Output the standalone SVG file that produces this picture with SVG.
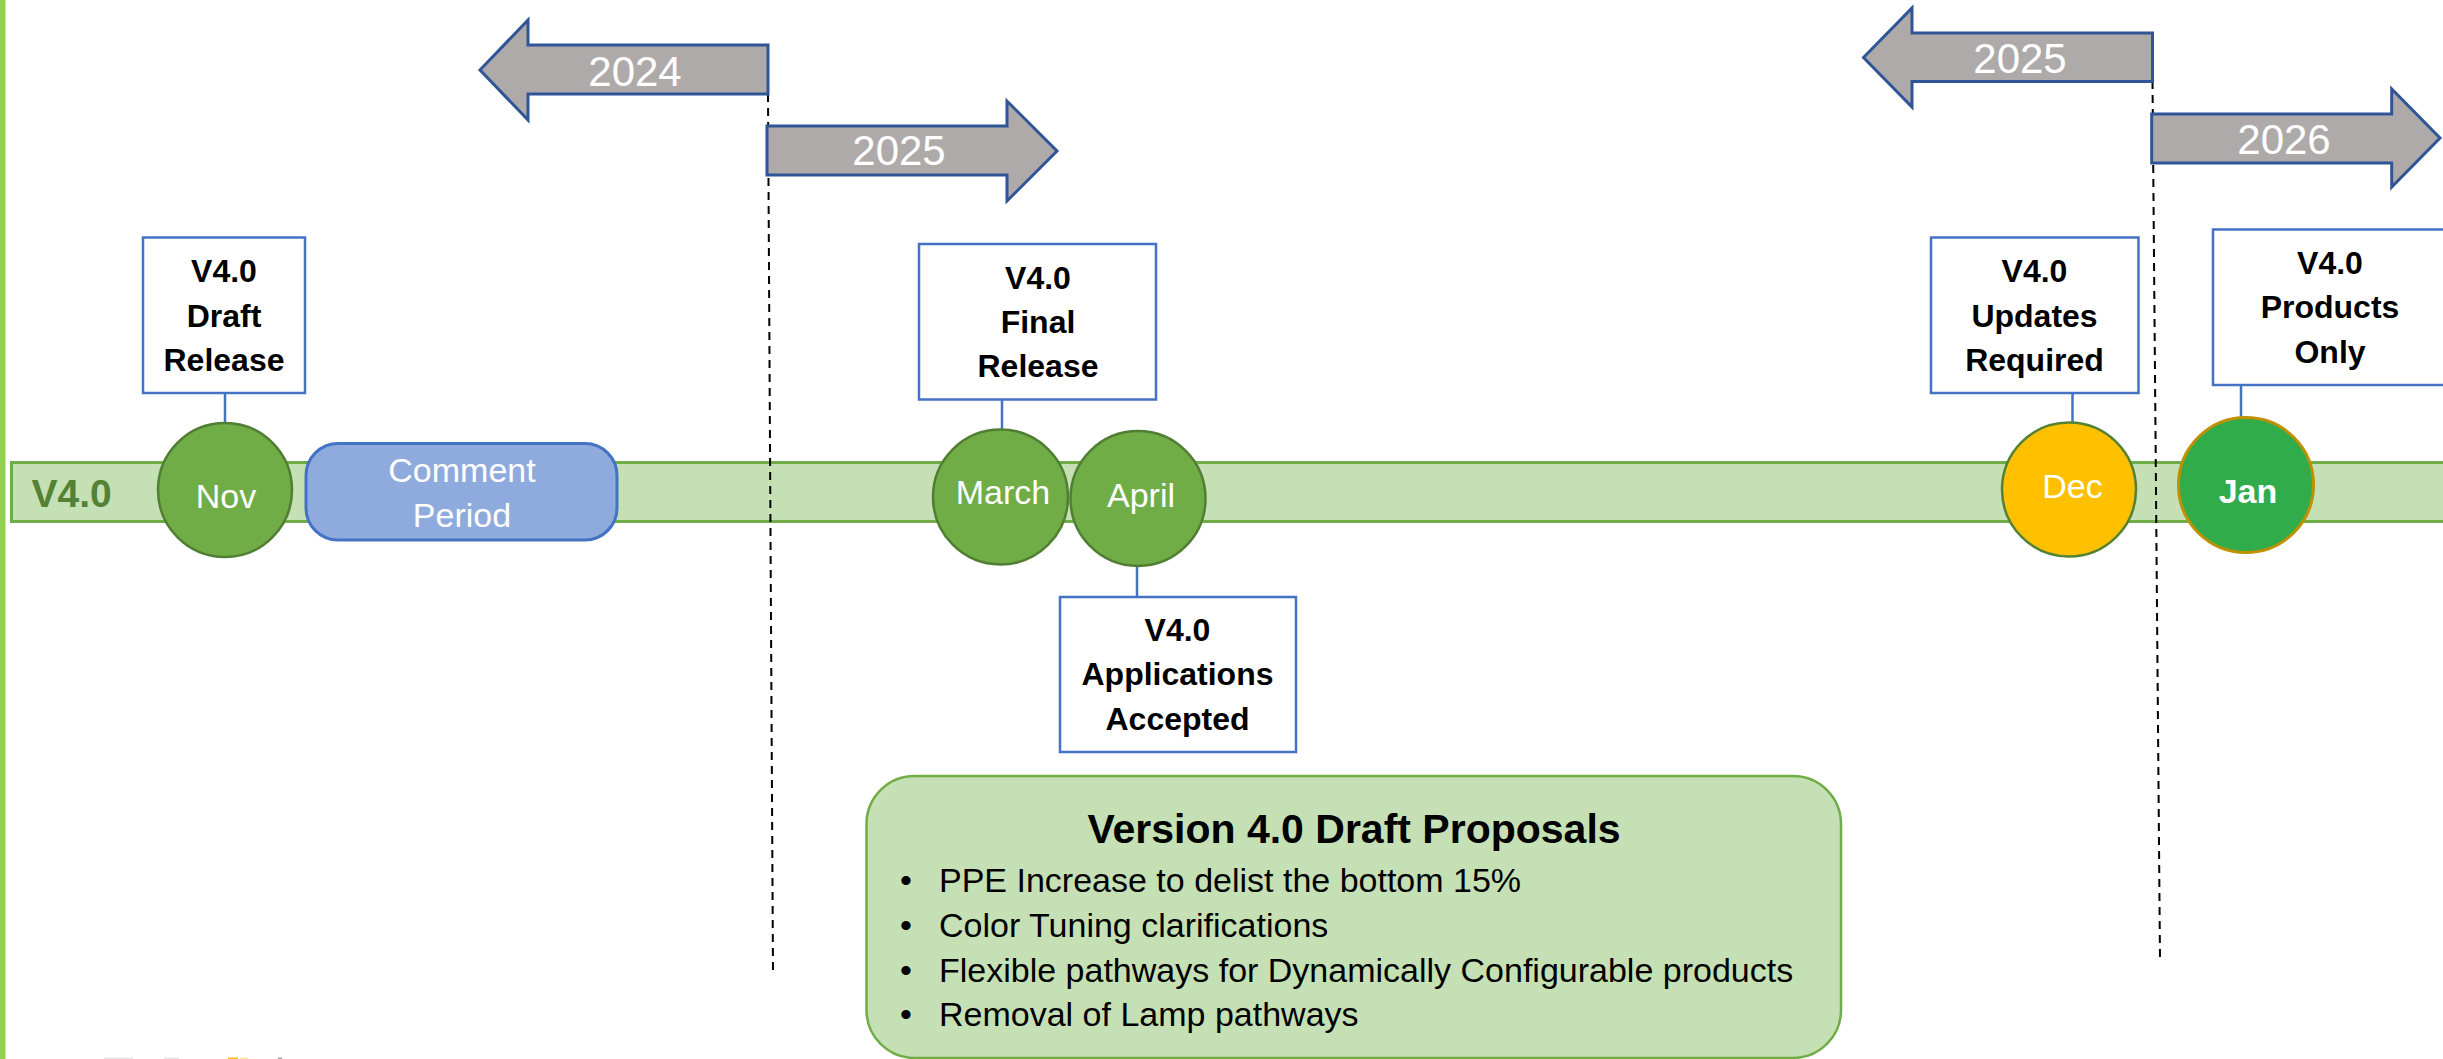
<svg xmlns="http://www.w3.org/2000/svg" width="2443" height="1059" viewBox="0 0 2443 1059">
  <style>
    text { font-family: "Liberation Sans", Arial, sans-serif; }
    .yr { fill: #ffffff; font-size: 42px; text-anchor: middle; }
    .arrow { fill: #AEAAAA; stroke: #2F5597; stroke-width: 3; stroke-linejoin: miter; }
    .box { fill: #ffffff; stroke: #4472C4; stroke-width: 2.5; }
    .boxtxt { fill: #000000; font-size: 32px; font-weight: bold; text-anchor: middle; }
    .mon { fill: #70AD47; stroke: #507E32; stroke-width: 2.5; }
    .montxt { fill: #ffffff; font-size: 34px; text-anchor: middle; }
    .link { stroke: #4472C4; stroke-width: 2.5; fill: none; }
    .dash { stroke: #000000; stroke-width: 2; stroke-dasharray: 8 6; fill: none; }
    .bul { fill: #000000; font-size: 34px; }
  </style>

  <!-- left edge accent -->
  <rect x="0" y="0" width="5.5" height="1059" fill="#92D050"/>

  <!-- V4.0 timeline band -->
  <g id="band">
    <rect x="11.5" y="462.5" width="2450" height="59" fill="#C5E0B4" stroke="#70AD47" stroke-width="3"/>
    <text x="31.5" y="507" font-size="39" font-weight="bold" fill="#548235">V4.0</text>
  </g>

  <!-- year boundaries -->
  <g id="year-dividers">
    <line class="dash" x1="768" y1="94" x2="773" y2="973"/>
    <line class="dash" x1="2152.5" y1="81" x2="2160" y2="960"/>
  </g>

  <!-- year arrows -->
  <g id="arrow-2024">
    <path class="arrow" d="M480,70 L528,20 L528,45 L768,45 L768,94 L528,94 L528,120 Z"/>
    <text class="yr" x="635" y="86">2024</text>
  </g>
  <g id="arrow-2025a">
    <path class="arrow" d="M767,126 L1007,126 L1007,101 L1057,151 L1007,201 L1007,175 L767,175 Z"/>
    <text class="yr" x="899" y="165">2025</text>
  </g>
  <g id="arrow-2025b">
    <path class="arrow" d="M1863.5,57.5 L1912,8 L1912,33 L2152.5,33 L2152.5,81.5 L1912,81.5 L1912,107 Z"/>
    <text class="yr" x="2020" y="73">2025</text>
  </g>
  <g id="arrow-2026">
    <path class="arrow" d="M2151.7,114 L2391.7,114 L2391.7,89 L2440,138 L2391.7,187 L2391.7,163 L2151.7,163 Z"/>
    <text class="yr" x="2284" y="153.5">2026</text>
  </g>

  <!-- connectors between milestones and their callouts -->
  <g id="connectors">
    <line class="link" x1="225" y1="393" x2="225" y2="423"/>
    <line class="link" x1="1002" y1="399" x2="1002" y2="430"/>
    <line class="link" x1="1137" y1="566" x2="1137" y2="597"/>
    <line class="link" x1="2072.5" y1="393" x2="2072.5" y2="422"/>
    <line class="link" x1="2241" y1="385" x2="2241" y2="418"/>
  </g>

  <!-- milestones -->
  <g id="nov">
    <circle class="mon" cx="225" cy="490" r="67"/>
    <text class="montxt" x="226" y="508">Nov</text>
  </g>
  <g id="comment-period">
    <rect x="306" y="443.5" width="311" height="96.5" rx="32" ry="32" fill="#8FAADC" stroke="#4472C4" stroke-width="3"/>
    <text class="montxt" x="462" y="482">Comment</text>
    <text class="montxt" x="462" y="527">Period</text>
  </g>
  <g id="march">
    <circle class="mon" cx="1000.5" cy="497" r="67.5"/>
    <text class="montxt" x="1003" y="504">March</text>
  </g>
  <g id="april">
    <circle class="mon" cx="1138" cy="498.5" r="67.5"/>
    <text class="montxt" x="1141" y="506.5">April</text>
  </g>
  <g id="dec">
    <circle cx="2069" cy="489.5" r="67" fill="#FFC000" stroke="#548235" stroke-width="2.5"/>
    <text class="montxt" x="2072.5" y="498">Dec</text>
  </g>
  <g id="jan">
    <circle cx="2246" cy="485" r="67.5" fill="#31AC4B" stroke="#BF9000" stroke-width="3"/>
    <text class="montxt" x="2248" y="503" font-weight="bold">Jan</text>
  </g>

  <!-- callouts -->
  <g id="draft-release">
    <rect class="box" x="143" y="237.5" width="162" height="155.5"/>
    <text class="boxtxt" x="224" y="282">V4.0</text>
    <text class="boxtxt" x="224" y="327">Draft</text>
    <text class="boxtxt" x="224" y="371">Release</text>
  </g>
  <g id="final-release">
    <rect class="box" x="919" y="244" width="237" height="155.5"/>
    <text class="boxtxt" x="1038" y="288.5">V4.0</text>
    <text class="boxtxt" x="1038" y="333">Final</text>
    <text class="boxtxt" x="1038" y="377">Release</text>
  </g>
  <g id="applications-accepted">
    <rect class="box" x="1060" y="597" width="236" height="155"/>
    <text class="boxtxt" x="1177.5" y="640.5">V4.0</text>
    <text class="boxtxt" x="1177.5" y="685">Applications</text>
    <text class="boxtxt" x="1177.5" y="730">Accepted</text>
  </g>
  <g id="updates-required">
    <rect class="box" x="1931" y="237.5" width="207.5" height="155.5"/>
    <text class="boxtxt" x="2034.5" y="282">V4.0</text>
    <text class="boxtxt" x="2034.5" y="327">Updates</text>
    <text class="boxtxt" x="2034.5" y="371">Required</text>
  </g>
  <g id="products-only">
    <rect class="box" x="2213" y="229.5" width="236" height="155.5"/>
    <text class="boxtxt" x="2330" y="274">V4.0</text>
    <text class="boxtxt" x="2330" y="318">Products</text>
    <text class="boxtxt" x="2330" y="362.5">Only</text>
  </g>

  <!-- proposals panel -->
  <g id="draft-proposals">
    <rect x="866.5" y="776" width="974.5" height="282" rx="48" ry="48" fill="#C5E0B4" stroke="#70AD47" stroke-width="2.5"/>
    <text x="1354" y="843" font-size="41" font-weight="bold" text-anchor="middle" fill="#000000">Version 4.0 Draft Proposals</text>
    <text class="bul" x="900" y="892">•</text>
    <text class="bul" x="939" y="892">PPE Increase to delist the bottom 15%</text>
    <text class="bul" x="900" y="937">•</text>
    <text class="bul" x="939" y="937">Color Tuning clarifications</text>
    <text class="bul" x="900" y="982">•</text>
    <text class="bul" x="939" y="982">Flexible pathways for Dynamically Configurable products</text>
    <text class="bul" x="900" y="1026">•</text>
    <text class="bul" x="939" y="1026">Removal of Lamp pathways</text>
  </g>

  <!-- shapes cut off at the lower edge -->
  <g id="lower-edge">
    <rect x="104" y="1057.5" width="29" height="1.5" fill="#E6E6E6"/>
    <rect x="164" y="1057.5" width="15" height="1.5" fill="#E6E6E6"/>
    <rect x="228" y="1057.5" width="10" height="1.5" fill="#FFC000"/>
    <rect x="240" y="1057.5" width="8" height="1.5" fill="#FFE699"/>
    <rect x="278" y="1057.5" width="4" height="1.5" fill="#A6A6A6"/>
  </g>
</svg>
